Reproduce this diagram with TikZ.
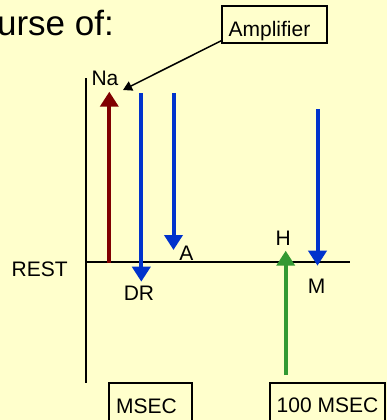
\documentclass[tikz,border=0pt]{standalone}
\usepackage{fontspec}
\setmainfont{Liberation Sans}
\usetikzlibrary{arrows.meta}
\definecolor{bg}{RGB}{255,255,204}
\definecolor{nared}{RGB}{128,0,0}
\definecolor{kblue}{RGB}{0,51,204}
\definecolor{hgreen}{RGB}{51,153,51}
\begin{document}
\begin{tikzpicture}[x=1pt,y=-1pt,
  lbl/.style={inner sep=0pt, font=\fontsize{21}{25}\selectfont, anchor=base},
  box/.style={draw=black, line width=1.5pt, inner sep=0pt},
  axis/.style={draw=black, line width=2pt},
  bigarrow/.style={line width=4pt, -{Triangle[length=15pt,width=18pt]}},
  ptr/.style={draw=black, line width=1.5pt, -{Triangle[length=9pt,width=10pt]}}]
\useasboundingbox (0,0) rectangle (387,420);
\fill[bg] (0,0) rectangle (387,420);
\clip (0,0) rectangle (387,420);
% title
\node[inner sep=0pt, anchor=base east, font=\fontsize{35}{40}\selectfont] (title) at (114,36) {urse of:};
% axes
\coordinate (vtop) at (86,78);
\coordinate (vbot) at (86,383);
\coordinate (hleft) at (86,262);
\coordinate (hright) at (350,262);
\draw[axis] (vtop) -- (vbot);
\draw[axis] (hleft) -- (hright);
% labels
\node[lbl] (rest) at (39.7,276.7) {REST};
\node[lbl] (na) at (105,85) {Na};
\node[lbl] (dr) at (139,300.7) {DR};
\node[lbl] (a) at (186.5,260.7) {A};
\node[lbl] (h) at (283.3,245) {H};
\node[lbl] (m) at (316.5,293) {M};
% amplifier box
\node[box, minimum width=105pt, minimum height=37pt] (amp) at (274.5,24.5) {};
\node[lbl] (amptext) at (269.5,36.7) {Amplifier};
\coordinate (amptip) at (123,90);
\draw[ptr] ([yshift=3pt]amp.south west) -- (amptip);
% bottom boxes
\node[box, minimum width=83pt, minimum height=50pt] (msec) at (150.5,408) {};
\node[lbl] (msectext) at (146.5,413) {MSEC};
\node[box, minimum width=115pt, minimum height=50pt] (hmsec) at (327.5,408) {};
\node[lbl] (hmsectext) at (327.5,412.7) {100 MSEC};
% arrows
\coordinate (naS) at (109.3,263);
\coordinate (naE) at (109.3,91.7);
\draw[bigarrow, nared] (naS) -- (naE);
\coordinate (drS) at (141.3,93.3);
\coordinate (drE) at (141.3,281.7);
\draw[bigarrow, kblue] (drS) -- (drE);
\coordinate (aS) at (173.5,93.3);
\coordinate (aE) at (173.5,250);
\draw[bigarrow, kblue] (aS) -- (aE);
\coordinate (hS) at (285.7,375);
\coordinate (hE) at (285.7,250.7);
\draw[bigarrow, hgreen] (hS) -- (hE);
\coordinate (mS) at (317.5,109);
\coordinate (mE) at (317.5,265.7);
\draw[bigarrow, kblue] (mS) -- (mE);
\end{tikzpicture}
\end{document}
